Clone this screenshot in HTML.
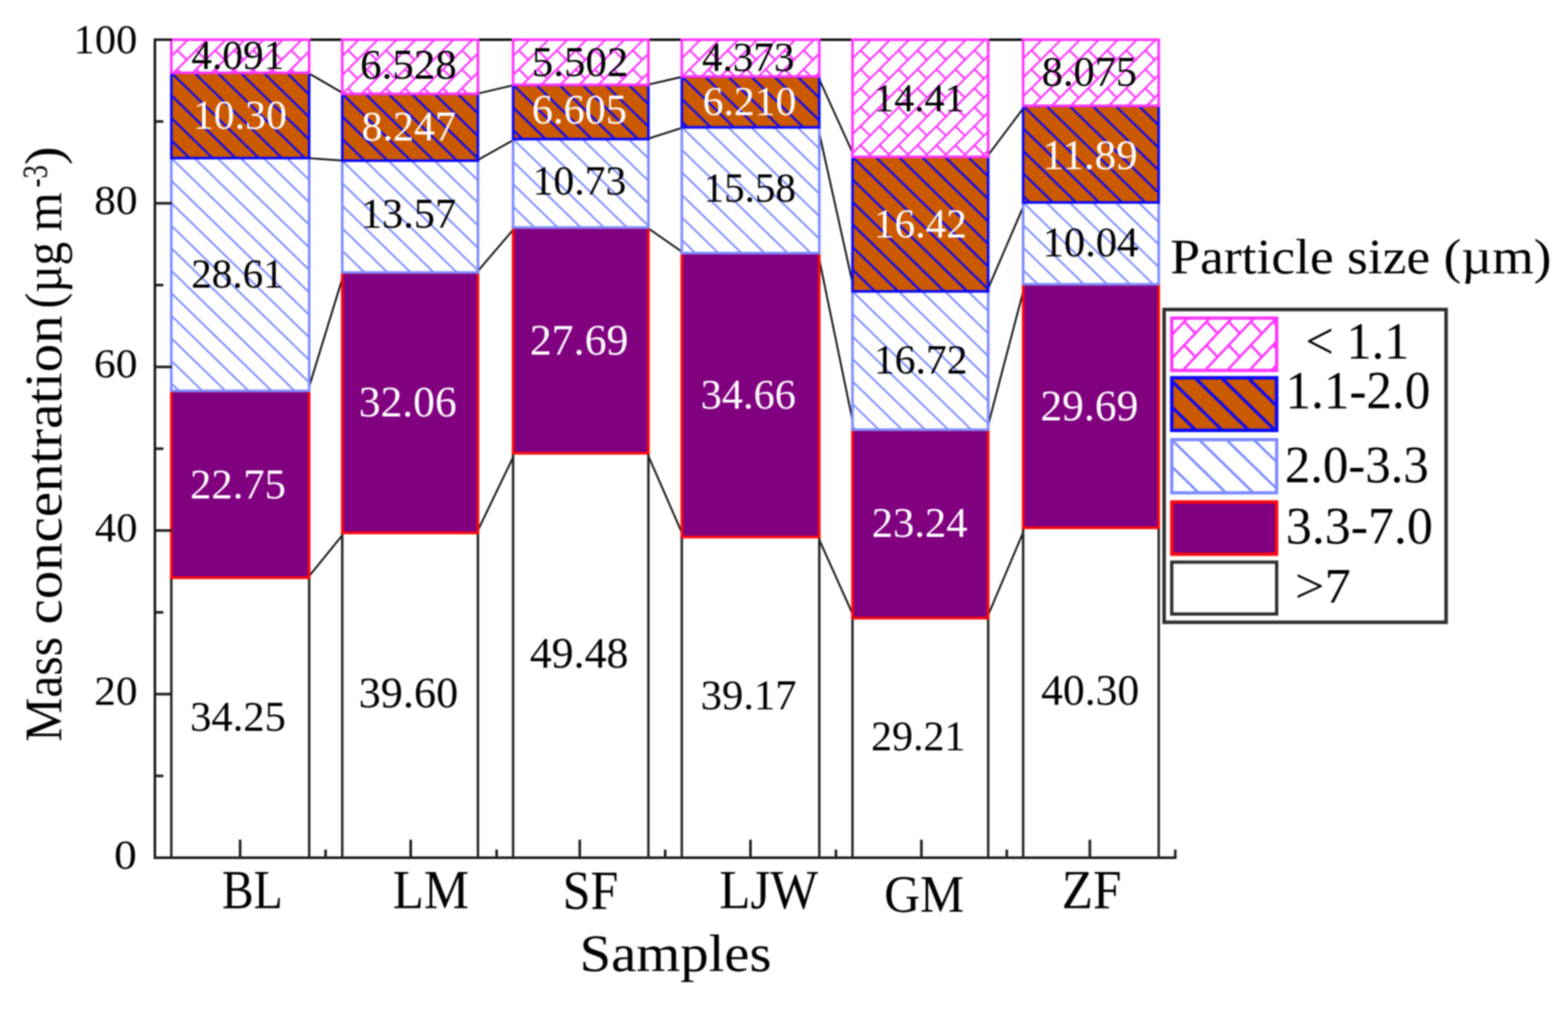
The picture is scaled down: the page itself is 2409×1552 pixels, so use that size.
<!DOCTYPE html>
<html lang="en"><head><meta charset="utf-8"><title>Mass concentration by particle size</title>
<style>
html,body{margin:0;padding:0;background:#fff;}
body{width:2409px;height:1552px;overflow:hidden;}
svg{display:block;}
text{font-family:"Liberation Serif","DejaVu Serif",serif;white-space:pre;}
</style></head><body>
<svg width="2409" height="1552" viewBox="0 0 2409 1552" role="img" aria-label="Stacked bar chart of mass concentration by particle size">
<defs><filter id="soft" x="0" y="0" width="2409" height="1552" filterUnits="userSpaceOnUse" color-interpolation-filters="sRGB"><feGaussianBlur stdDeviation="0.90"/></filter></defs>
<rect width="2409" height="1552" fill="#fff"/>
<g filter="url(#soft)">
<g stroke="#141414" fill="none">
<line x1="473.0" y1="887.7" x2="528.8" y2="818.9" stroke-width="2.9"/>
<line x1="473.0" y1="600.6" x2="528.8" y2="418.7" stroke-width="2.9"/>
<line x1="473.0" y1="242.9" x2="528.8" y2="246.9" stroke-width="2.9"/>
<line x1="473.0" y1="111.9" x2="528.8" y2="144.2" stroke-width="2.9"/>
<line x1="475.0" y1="61.0" x2="525.8" y2="61.0" stroke-width="4"/>
<line x1="732.3" y1="818.9" x2="791.3" y2="696.4" stroke-width="2.9"/>
<line x1="732.3" y1="418.7" x2="791.3" y2="349.6" stroke-width="2.9"/>
<line x1="732.3" y1="246.9" x2="791.3" y2="213.7" stroke-width="2.9"/>
<line x1="732.3" y1="144.2" x2="791.3" y2="130.4" stroke-width="2.9"/>
<line x1="734.3" y1="61.0" x2="788.3" y2="61.0" stroke-width="4"/>
<line x1="994.2" y1="696.4" x2="1050.5" y2="825.2" stroke-width="2.9"/>
<line x1="994.2" y1="349.6" x2="1050.5" y2="388.9" stroke-width="2.9"/>
<line x1="994.2" y1="213.7" x2="1050.5" y2="195.6" stroke-width="2.9"/>
<line x1="994.2" y1="130.4" x2="1050.5" y2="117.5" stroke-width="2.9"/>
<line x1="996.2" y1="61.0" x2="1047.5" y2="61.0" stroke-width="4"/>
<line x1="1256.7" y1="825.2" x2="1312.7" y2="949.7" stroke-width="2.9"/>
<line x1="1256.7" y1="388.9" x2="1312.7" y2="660.3" stroke-width="2.9"/>
<line x1="1256.7" y1="195.6" x2="1312.7" y2="447.7" stroke-width="2.9"/>
<line x1="1256.7" y1="117.5" x2="1312.7" y2="241.0" stroke-width="2.9"/>
<line x1="1258.7" y1="61.0" x2="1309.7" y2="61.0" stroke-width="4"/>
<line x1="1516.2" y1="949.7" x2="1574.9" y2="811.1" stroke-width="2.9"/>
<line x1="1516.2" y1="660.3" x2="1574.9" y2="436.8" stroke-width="2.9"/>
<line x1="1516.2" y1="447.7" x2="1574.9" y2="311.1" stroke-width="2.9"/>
<line x1="1516.2" y1="241.0" x2="1574.9" y2="162.6" stroke-width="2.9"/>
<line x1="1518.2" y1="61.0" x2="1571.9" y2="61.0" stroke-width="4"/>
</g>
<g>
<rect x="263.2" y="887.7" width="211.8" height="430.3" fill="#fff" stroke="#222" stroke-width="3.7"/>
<rect x="263.2" y="600.6" width="211.8" height="287.1" fill="#800080" stroke="#FF0A0A" stroke-width="4.0"/>
<rect x="263.2" y="242.9" width="211.8" height="357.7" fill="#fff"/>
<path d="M440.6 242.9L475 276.4M405.1 242.9L475 311M369.7 242.9L475 345.6M334.2 242.9L475 380.2M298.7 242.9L475 414.8M263.2 242.9L475 449.4M263.2 277.5L475 484M263.2 312.1L475 518.6M263.2 346.7L475 553.2M263.2 381.3L475 587.8M263.2 415.9L452.6 600.6M263.2 450.5L417.1 600.6M263.2 485.1L381.7 600.6M263.2 519.7L346.2 600.6M263.2 554.3L310.7 600.6M263.2 588.9L275.2 600.6" stroke="#7D8BFF" stroke-width="2.8" fill="none"/>
<rect x="263.2" y="242.9" width="211.8" height="357.7" fill="none" stroke="#7D8BFF" stroke-width="4.0"/>
<rect x="263.2" y="111.9" width="211.8" height="131.0" fill="#CB5900"/>
<path d="M440.6 111.9L475 145.4M405.1 111.9L475 180M369.7 111.9L475 214.6M334.2 111.9L468.5 242.9M298.7 111.9L433 242.9M263.2 111.9L397.6 242.9M263.2 146.5L362.1 242.9M263.2 181.1L326.6 242.9M263.2 215.7L291.1 242.9" stroke="#0C08F8" stroke-width="3.3" fill="none"/>
<rect x="263.2" y="111.9" width="211.8" height="131.0" fill="none" stroke="#0C08F8" stroke-width="4.0"/>
<rect x="263.2" y="61.0" width="211.8" height="50.9" fill="#fff"/>
<path d="M263.2 86.5L288.7 61M266.9 111.9L317.8 61M296.1 111.9L347 61M325.2 111.9L376.1 61M354.4 111.9L405.3 61M383.6 111.9L434.5 61M412.7 111.9L463.6 61M441.9 111.9L475 78.8M471 111.9L475 107.9M285.2 61L286.9 62.7M314.3 61L316.1 62.7M343.5 61L345.2 62.7M372.7 61L374.4 62.7M401.8 61L403.6 62.7M431 61L432.7 62.7M460.1 61L461.9 62.7M272.3 77.3L286.9 91.9M301.5 77.3L316.1 91.9M330.7 77.3L345.2 91.9M359.8 77.3L374.4 91.9M389 77.3L403.6 91.9M418.1 77.3L432.7 91.9M447.3 77.3L461.9 91.9M272.3 106.5L277.8 111.9M301.5 106.5L306.9 111.9M330.7 106.5L336.1 111.9M359.8 106.5L365.2 111.9M389 106.5L394.4 111.9M418.1 106.5L423.6 111.9M447.3 106.5L452.7 111.9" stroke="#FF33FF" stroke-width="3.0" fill="none"/>
<rect x="263.2" y="61.0" width="211.8" height="50.9" fill="none" stroke="#FF33FF" stroke-width="4.0"/>
</g>
<g>
<rect x="525.8" y="818.9" width="208.5" height="499.1" fill="#fff" stroke="#222" stroke-width="3.7"/>
<rect x="525.8" y="418.7" width="208.5" height="400.2" fill="#800080" stroke="#FF0A0A" stroke-width="4.0"/>
<rect x="525.8" y="246.9" width="208.5" height="171.8" fill="#fff"/>
<path d="M703.2 246.9L734.3 277.2M667.7 246.9L734.3 311.8M632.3 246.9L734.3 346.4M596.8 246.9L734.3 381M561.3 246.9L734.3 415.6M525.8 246.9L702 418.7M525.8 281.5L666.5 418.7M525.8 316.1L631 418.7M525.8 350.7L595.5 418.7M525.8 385.3L560.1 418.7" stroke="#7D8BFF" stroke-width="2.8" fill="none"/>
<rect x="525.8" y="246.9" width="208.5" height="171.8" fill="none" stroke="#7D8BFF" stroke-width="4.0"/>
<rect x="525.8" y="144.2" width="208.5" height="102.7" fill="#CB5900"/>
<path d="M703.2 144.2L734.3 174.5M667.7 144.2L734.3 209.1M632.3 144.2L734.3 243.7M596.8 144.2L702.1 246.9M561.3 144.2L666.6 246.9M525.8 144.2L631.1 246.9M525.8 178.8L595.6 246.9M525.8 213.4L560.2 246.9" stroke="#0C08F8" stroke-width="3.3" fill="none"/>
<rect x="525.8" y="144.2" width="208.5" height="102.7" fill="none" stroke="#0C08F8" stroke-width="4.0"/>
<rect x="525.8" y="61.0" width="208.5" height="83.2" fill="#fff"/>
<path d="M525.8 86.3L551.1 61M525.8 115.5L580.3 61M526.2 144.2L609.4 61M555.4 144.2L638.6 61M584.5 144.2L667.7 61M613.7 144.2L696.9 61M642.9 144.2L726.1 61M672 144.2L734.3 81.9M701.2 144.2L734.3 111.1M730.3 144.2L734.3 140.2M547.6 61L549.4 62.7M576.8 61L578.5 62.7M605.9 61L607.7 62.7M635.1 61L636.8 62.7M664.3 61L666 62.7M693.4 61L695.2 62.7M722.6 61L724.3 62.7M534.8 77.3L549.4 91.9M563.9 77.3L578.5 91.9M593.1 77.3L607.7 91.9M622.3 77.3L636.8 91.9M651.4 77.3L666 91.9M680.6 77.3L695.2 91.9M709.7 77.3L724.3 91.9M534.8 106.5L549.4 121.1M563.9 106.5L578.5 121.1M593.1 106.5L607.7 121.1M622.3 106.5L636.8 121.1M651.4 106.5L666 121.1M680.6 106.5L695.2 121.1M709.7 106.5L724.3 121.1M534.8 135.6L543.3 144.2M563.9 135.6L572.5 144.2M593.1 135.6L601.7 144.2M622.3 135.6L630.8 144.2M651.4 135.6L660 144.2M680.6 135.6L689.1 144.2M709.7 135.6L718.3 144.2" stroke="#FF33FF" stroke-width="3.0" fill="none"/>
<rect x="525.8" y="61.0" width="208.5" height="83.2" fill="none" stroke="#FF33FF" stroke-width="4.0"/>
</g>
<g>
<rect x="788.3" y="696.4" width="207.9" height="621.6" fill="#fff" stroke="#222" stroke-width="3.7"/>
<rect x="788.3" y="349.6" width="207.9" height="346.8" fill="#800080" stroke="#FF0A0A" stroke-width="4.0"/>
<rect x="788.3" y="213.7" width="207.9" height="135.9" fill="#fff"/>
<path d="M965.7 213.7L996.2 243.4M930.2 213.7L996.2 278M894.8 213.7L996.2 312.6M859.3 213.7L996.2 347.2M823.8 213.7L963.2 349.6M788.3 213.7L927.7 349.6M788.3 248.3L892.2 349.6M788.3 282.9L856.7 349.6M788.3 317.5L821.2 349.6" stroke="#7D8BFF" stroke-width="2.8" fill="none"/>
<rect x="788.3" y="213.7" width="207.9" height="135.9" fill="none" stroke="#7D8BFF" stroke-width="4.0"/>
<rect x="788.3" y="130.4" width="207.9" height="83.3" fill="#CB5900"/>
<path d="M965.7 130.4L996.2 160.1M930.2 130.4L996.2 194.7M894.8 130.4L980.2 213.7M859.3 130.4L944.7 213.7M823.8 130.4L909.2 213.7M788.3 130.4L873.7 213.7M788.3 165L838.2 213.7M788.3 199.6L802.8 213.7" stroke="#0C08F8" stroke-width="3.3" fill="none"/>
<rect x="788.3" y="130.4" width="207.9" height="83.3" fill="none" stroke="#0C08F8" stroke-width="4.0"/>
<rect x="788.3" y="61.0" width="207.9" height="69.4" fill="#fff"/>
<path d="M788.3 86.2L813.5 61M788.3 115.4L842.7 61M802.5 130.4L871.9 61M831.6 130.4L901 61M860.8 130.4L930.2 61M889.9 130.4L959.3 61M919.1 130.4L988.5 61M948.3 130.4L996.2 82.5M977.4 130.4L996.2 111.6M810.1 61L811.8 62.7M839.2 61L841 62.7M868.4 61L870.1 62.7M897.5 61L899.3 62.7M926.7 61L928.4 62.7M955.9 61L957.6 62.7M985 61L986.8 62.7M797.2 77.3L811.8 91.9M826.4 77.3L841 91.9M855.5 77.3L870.1 91.9M884.7 77.3L899.3 91.9M913.9 77.3L928.4 91.9M943 77.3L957.6 91.9M972.2 77.3L986.8 91.9M797.2 106.5L811.8 121.1M826.4 106.5L841 121.1M855.5 106.5L870.1 121.1M884.7 106.5L899.3 121.1M913.9 106.5L928.4 121.1M943 106.5L957.6 121.1M972.2 106.5L986.8 121.1" stroke="#FF33FF" stroke-width="3.0" fill="none"/>
<rect x="788.3" y="61.0" width="207.9" height="69.4" fill="none" stroke="#FF33FF" stroke-width="4.0"/>
</g>
<g>
<rect x="1047.5" y="825.2" width="211.2" height="492.8" fill="#fff" stroke="#222" stroke-width="3.7"/>
<rect x="1047.5" y="388.9" width="211.2" height="436.3" fill="#800080" stroke="#FF0A0A" stroke-width="4.0"/>
<rect x="1047.5" y="195.6" width="211.2" height="193.3" fill="#fff"/>
<path d="M1224.9 195.6L1258.7 228.5M1189.4 195.6L1258.7 263.1M1154 195.6L1258.7 297.7M1118.5 195.6L1258.7 332.3M1083 195.6L1258.7 366.9M1047.5 195.6L1245.8 388.9M1047.5 230.2L1210.3 388.9M1047.5 264.8L1174.8 388.9M1047.5 299.4L1139.3 388.9M1047.5 334L1103.8 388.9M1047.5 368.6L1068.3 388.9" stroke="#7D8BFF" stroke-width="2.8" fill="none"/>
<rect x="1047.5" y="195.6" width="211.2" height="193.3" fill="none" stroke="#7D8BFF" stroke-width="4.0"/>
<rect x="1047.5" y="117.5" width="211.2" height="78.1" fill="#CB5900"/>
<path d="M1224.9 117.5L1258.7 150.4M1189.4 117.5L1258.7 185M1154 117.5L1234.1 195.6M1118.5 117.5L1198.6 195.6M1083 117.5L1163.1 195.6M1047.5 117.5L1127.6 195.6M1047.5 152.1L1092.1 195.6M1047.5 186.7L1056.6 195.6" stroke="#0C08F8" stroke-width="3.3" fill="none"/>
<rect x="1047.5" y="117.5" width="211.2" height="78.1" fill="none" stroke="#0C08F8" stroke-width="4.0"/>
<rect x="1047.5" y="61.0" width="211.2" height="56.5" fill="#fff"/>
<path d="M1047.5 89.5L1076 61M1048.6 117.5L1105.1 61M1077.8 117.5L1134.3 61M1107 117.5L1163.5 61M1136.1 117.5L1192.6 61M1165.3 117.5L1221.8 61M1194.4 117.5L1250.9 61M1223.6 117.5L1258.7 82.4M1252.8 117.5L1258.7 111.6M1072.5 61L1074.2 62.7M1101.7 61L1103.4 62.7M1130.8 61L1132.6 62.7M1160 61L1161.7 62.7M1189.1 61L1190.9 62.7M1218.3 61L1220 62.7M1247.5 61L1249.2 62.7M1059.7 77.3L1074.2 91.9M1088.8 77.3L1103.4 91.9M1118 77.3L1132.6 91.9M1147.1 77.3L1161.7 91.9M1176.3 77.3L1190.9 91.9M1205.5 77.3L1220 91.9M1234.6 77.3L1249.2 91.9M1059.7 106.5L1070.7 117.5M1088.8 106.5L1099.8 117.5M1118 106.5L1129 117.5M1147.1 106.5L1158.2 117.5M1176.3 106.5L1187.3 117.5M1205.5 106.5L1216.5 117.5M1234.6 106.5L1245.6 117.5" stroke="#FF33FF" stroke-width="3.0" fill="none"/>
<rect x="1047.5" y="61.0" width="211.2" height="56.5" fill="none" stroke="#FF33FF" stroke-width="4.0"/>
</g>
<g>
<rect x="1309.7" y="949.7" width="208.5" height="368.3" fill="#fff" stroke="#222" stroke-width="3.7"/>
<rect x="1309.7" y="660.3" width="208.5" height="289.4" fill="#800080" stroke="#FF0A0A" stroke-width="4.0"/>
<rect x="1309.7" y="447.7" width="208.5" height="212.6" fill="#fff"/>
<path d="M1487.1 447.7L1518.2 478M1451.6 447.7L1518.2 512.6M1416.2 447.7L1518.2 547.2M1380.7 447.7L1518.2 581.8M1345.2 447.7L1518.2 616.4M1309.7 447.7L1518.2 651M1309.7 482.3L1492.3 660.3M1309.7 516.9L1456.8 660.3M1309.7 551.5L1421.3 660.3M1309.7 586.1L1385.8 660.3M1309.7 620.7L1350.3 660.3M1309.7 655.3L1314.8 660.3" stroke="#7D8BFF" stroke-width="2.8" fill="none"/>
<rect x="1309.7" y="447.7" width="208.5" height="212.6" fill="none" stroke="#7D8BFF" stroke-width="4.0"/>
<rect x="1309.7" y="241.0" width="208.5" height="206.7" fill="#CB5900"/>
<path d="M1487.1 241L1518.2 271.3M1451.6 241L1518.2 305.9M1416.2 241L1518.2 340.5M1380.7 241L1518.2 375.1M1345.2 241L1518.2 409.7M1309.7 241L1518.2 444.3M1309.7 275.6L1486.2 447.7M1309.7 310.2L1450.7 447.7M1309.7 344.8L1415.2 447.7M1309.7 379.4L1379.8 447.7M1309.7 414L1344.3 447.7" stroke="#0C08F8" stroke-width="3.3" fill="none"/>
<rect x="1309.7" y="241.0" width="208.5" height="206.7" fill="none" stroke="#0C08F8" stroke-width="4.0"/>
<rect x="1309.7" y="61.0" width="208.5" height="180.0" fill="#fff"/>
<path d="M1309.7 89.7L1338.4 61M1309.7 118.9L1367.6 61M1309.7 148L1396.7 61M1309.7 177.2L1425.9 61M1309.7 206.4L1455.1 61M1309.7 235.5L1484.2 61M1333.4 241L1513.4 61M1362.5 241L1518.2 85.3M1391.7 241L1518.2 114.5M1420.9 241L1518.2 143.7M1450 241L1518.2 172.8M1479.2 241L1518.2 202M1508.3 241L1518.2 231.1M1334.9 61L1336.7 62.7M1364.1 61L1365.8 62.7M1393.3 61L1395 62.7M1422.4 61L1424.2 62.7M1451.6 61L1453.3 62.7M1480.7 61L1482.5 62.7M1509.9 61L1511.6 62.7M1322.1 77.3L1336.7 91.9M1351.3 77.3L1365.8 91.9M1380.4 77.3L1395 91.9M1409.6 77.3L1424.2 91.9M1438.7 77.3L1453.3 91.9M1467.9 77.3L1482.5 91.9M1497.1 77.3L1511.6 91.9M1322.1 106.5L1336.7 121.1M1351.3 106.5L1365.8 121.1M1380.4 106.5L1395 121.1M1409.6 106.5L1424.2 121.1M1438.7 106.5L1453.3 121.1M1467.9 106.5L1482.5 121.1M1497.1 106.5L1511.6 121.1M1322.1 135.6L1336.7 150.2M1351.3 135.6L1365.8 150.2M1380.4 135.6L1395 150.2M1409.6 135.6L1424.2 150.2M1438.7 135.6L1453.3 150.2M1467.9 135.6L1482.5 150.2M1497.1 135.6L1511.6 150.2M1322.1 164.8L1336.7 179.4M1351.3 164.8L1365.8 179.4M1380.4 164.8L1395 179.4M1409.6 164.8L1424.2 179.4M1438.7 164.8L1453.3 179.4M1467.9 164.8L1482.5 179.4M1497.1 164.8L1511.6 179.4M1322.1 194L1336.7 208.5M1351.3 194L1365.8 208.5M1380.4 194L1395 208.5M1409.6 194L1424.2 208.5M1438.7 194L1453.3 208.5M1467.9 194L1482.5 208.5M1497.1 194L1511.6 208.5M1322.1 223.1L1336.7 237.7M1351.3 223.1L1365.8 237.7M1380.4 223.1L1395 237.7M1409.6 223.1L1424.2 237.7M1438.7 223.1L1453.3 237.7M1467.9 223.1L1482.5 237.7M1497.1 223.1L1511.6 237.7" stroke="#FF33FF" stroke-width="3.0" fill="none"/>
<rect x="1309.7" y="61.0" width="208.5" height="180.0" fill="none" stroke="#FF33FF" stroke-width="4.0"/>
</g>
<g>
<rect x="1571.9" y="811.1" width="208.3" height="506.9" fill="#fff" stroke="#222" stroke-width="3.7"/>
<rect x="1571.9" y="436.8" width="208.3" height="374.3" fill="#800080" stroke="#FF0A0A" stroke-width="4.0"/>
<rect x="1571.9" y="311.1" width="208.3" height="125.7" fill="#fff"/>
<path d="M1749.3 311.1L1780.2 341.2M1713.8 311.1L1780.2 375.8M1678.4 311.1L1780.2 410.4M1642.9 311.1L1771.8 436.8M1607.4 311.1L1736.3 436.8M1571.9 311.1L1700.8 436.8M1571.9 345.7L1665.3 436.8M1571.9 380.3L1629.8 436.8M1571.9 414.9L1594.4 436.8" stroke="#7D8BFF" stroke-width="2.8" fill="none"/>
<rect x="1571.9" y="311.1" width="208.3" height="125.7" fill="none" stroke="#7D8BFF" stroke-width="4.0"/>
<rect x="1571.9" y="162.6" width="208.3" height="148.5" fill="#CB5900"/>
<path d="M1749.3 162.6L1780.2 192.7M1713.8 162.6L1780.2 227.3M1678.4 162.6L1780.2 261.9M1642.9 162.6L1780.2 296.5M1607.4 162.6L1759.7 311.1M1571.9 162.6L1724.2 311.1M1571.9 197.2L1688.7 311.1M1571.9 231.8L1653.2 311.1M1571.9 266.4L1617.7 311.1M1571.9 301L1582.3 311.1" stroke="#0C08F8" stroke-width="3.3" fill="none"/>
<rect x="1571.9" y="162.6" width="208.3" height="148.5" fill="none" stroke="#0C08F8" stroke-width="4.0"/>
<rect x="1571.9" y="61.0" width="208.3" height="101.6" fill="#fff"/>
<path d="M1571.9 90L1600.9 61M1571.9 119.1L1630 61M1571.9 148.3L1659.2 61M1586.7 162.6L1688.3 61M1615.9 162.6L1717.5 61M1645.1 162.6L1746.7 61M1674.2 162.6L1775.8 61M1703.4 162.6L1780.2 85.8M1732.5 162.6L1780.2 114.9M1761.7 162.6L1780.2 144.1M1597.4 61L1599.1 62.7M1626.5 61L1628.3 62.7M1655.7 61L1657.4 62.7M1684.9 61L1686.6 62.7M1714 61L1715.8 62.7M1743.2 61L1744.9 62.7M1772.3 61L1774.1 62.7M1584.5 77.3L1599.1 91.9M1613.7 77.3L1628.3 91.9M1642.9 77.3L1657.4 91.9M1672 77.3L1686.6 91.9M1701.2 77.3L1715.8 91.9M1730.3 77.3L1744.9 91.9M1759.5 77.3L1774.1 91.9M1584.5 106.5L1599.1 121.1M1613.7 106.5L1628.3 121.1M1642.9 106.5L1657.4 121.1M1672 106.5L1686.6 121.1M1701.2 106.5L1715.8 121.1M1730.3 106.5L1744.9 121.1M1759.5 106.5L1774.1 121.1M1584.5 135.6L1599.1 150.2M1613.7 135.6L1628.3 150.2M1642.9 135.6L1657.4 150.2M1672 135.6L1686.6 150.2M1701.2 135.6L1715.8 150.2M1730.3 135.6L1744.9 150.2M1759.5 135.6L1774.1 150.2" stroke="#FF33FF" stroke-width="3.0" fill="none"/>
<rect x="1571.9" y="61.0" width="208.3" height="101.6" fill="none" stroke="#FF33FF" stroke-width="4.0"/>
</g>
<g stroke="#1e1e1e" stroke-width="4" fill="none">
<path d="M238.0 59.0V1318.0H1807.6"/>
<line x1="238.0" y1="1318.0" x2="264.0" y2="1318.0"/>
<line x1="238.0" y1="1192.3" x2="251.0" y2="1192.3"/>
<line x1="238.0" y1="1066.6" x2="264.0" y2="1066.6"/>
<line x1="238.0" y1="940.9" x2="251.0" y2="940.9"/>
<line x1="238.0" y1="815.2" x2="264.0" y2="815.2"/>
<line x1="238.0" y1="689.5" x2="251.0" y2="689.5"/>
<line x1="238.0" y1="563.8" x2="264.0" y2="563.8"/>
<line x1="238.0" y1="438.1" x2="251.0" y2="438.1"/>
<line x1="238.0" y1="312.4" x2="264.0" y2="312.4"/>
<line x1="238.0" y1="186.7" x2="251.0" y2="186.7"/>
<line x1="238.0" y1="61.0" x2="264.0" y2="61.0"/>
<line x1="368.9" y1="1318.0" x2="368.9" y2="1290.3"/>
<line x1="500.2" y1="1318.0" x2="500.2" y2="1305.5"/>
<line x1="631.0" y1="1318.0" x2="631.0" y2="1290.3"/>
<line x1="763.0" y1="1318.0" x2="763.0" y2="1305.5"/>
<line x1="890.7" y1="1318.0" x2="890.7" y2="1290.3"/>
<line x1="1022.0" y1="1318.0" x2="1022.0" y2="1305.5"/>
<line x1="1153.0" y1="1318.0" x2="1153.0" y2="1290.3"/>
<line x1="1284.3" y1="1318.0" x2="1284.3" y2="1305.5"/>
<line x1="1415.6" y1="1318.0" x2="1415.6" y2="1290.3"/>
<line x1="1546.8" y1="1318.0" x2="1546.8" y2="1305.5"/>
<line x1="1674.4" y1="1318.0" x2="1674.4" y2="1290.3"/>
<line x1="1805.6" y1="1318.0" x2="1805.6" y2="1305.5"/>
</g>
<g>
<text x="291.9" y="1123.4" font-size="65.5" fill="#000">34.25</text>
<text x="291.9" y="766.0" font-size="65.5" fill="#fff">22.75</text>
<text x="293.7" y="441.8" font-size="63.2" fill="#000">28.61</text>
<text x="296.2" y="197.5" font-size="64.3" fill="#fff">10.30</text>
<text x="294.0" y="106.4" font-size="63.4" fill="#000">4.091</text>
<text x="551.1" y="1086.8" font-size="67.9" fill="#000">39.60</text>
<text x="551.2" y="639.5" font-size="66.9" fill="#fff">32.06</text>
<text x="554.4" y="350.1" font-size="65.0" fill="#000">13.57</text>
<text x="555.4" y="216.2" font-size="64.5" fill="#fff">8.247</text>
<text x="553.2" y="121.1" font-size="66.0" fill="#000">6.528</text>
<text x="813.9" y="1025.5" font-size="67.4" fill="#000">49.48</text>
<text x="813.9" y="544.6" font-size="67.4" fill="#fff">27.69</text>
<text x="818.3" y="298.9" font-size="64.0" fill="#000">10.73</text>
<text x="817.1" y="190.1" font-size="65.0" fill="#fff">6.605</text>
<text x="817.1" y="116.9" font-size="65.9" fill="#000">5.502</text>
<text x="1076.4" y="1090.3" font-size="65.5" fill="#000">39.17</text>
<text x="1076.5" y="628.2" font-size="65.0" fill="#fff">34.66</text>
<text x="1080.9" y="310.4" font-size="63.0" fill="#000">15.58</text>
<text x="1079.6" y="176.5" font-size="64.0" fill="#fff">6.210</text>
<text x="1078.5" y="108.6" font-size="63.1" fill="#000">4.373</text>
<text x="1338.2" y="1152.7" font-size="64.5" fill="#000">29.21</text>
<text x="1339.2" y="824.7" font-size="65.5" fill="#fff">23.24</text>
<text x="1342.5" y="573.7" font-size="64.0" fill="#000">16.72</text>
<text x="1342.5" y="365.4" font-size="63.5" fill="#fff">16.42</text>
<text x="1342.7" y="171.0" font-size="62.0" fill="#000">14.41</text>
<text x="1599.5" y="1082.6" font-size="67.0" fill="#000">40.30</text>
<text x="1598.4" y="645.8" font-size="66.9" fill="#fff">29.69</text>
<text x="1601.7" y="393.7" font-size="65.5" fill="#000">10.04</text>
<text x="1601.6" y="259.8" font-size="66.1" fill="#fff">11.89</text>
<text x="1600.6" y="132.3" font-size="65.0" fill="#000">8.075</text>
</g>
<g>
<text transform="translate(113.0 81.8) scale(1.0166 1)" font-size="64.3" fill="#000">100</text>
<text transform="translate(144.7 328.6) scale(1.0368 1)" font-size="64.3" fill="#000">80</text>
<text transform="translate(144.3 580.2) scale(1.0435 1)" font-size="64.3" fill="#000">60</text>
<text transform="translate(145.8 831.8) scale(1.0198 1)" font-size="64.3" fill="#000">40</text>
<text transform="translate(144.7 1083.2) scale(1.0368 1)" font-size="64.3" fill="#000">20</text>
<text transform="translate(175.3 1335.2) scale(1.0842 1)" font-size="64.3" fill="#000">0</text>
</g>
<g>
<text transform="translate(340.9 1396.4) scale(0.8697 1)" font-size="84.1" fill="#000">BL</text>
<text transform="translate(603.6 1396.4) scale(0.9275 1)" font-size="84.1" fill="#000">LM</text>
<text transform="translate(864.5 1396.9) scale(0.9152 1)" font-size="83.8" fill="#000">SF</text>
<text transform="translate(1105.3 1396.4) scale(0.9316 1)" font-size="83.7" fill="#000">LJW</text>
<text transform="translate(1358.6 1400.6) scale(0.9542 1)" font-size="79.8" fill="#000">GM</text>
<text transform="translate(1631.3 1396.4) scale(0.9346 1)" font-size="84.1" fill="#000">ZF</text>
</g>
<text transform="translate(890.6 1492.0) scale(1.0924 1)" font-size="79.6" fill="#000">Samples</text>
<g>
<text transform="translate(94.2 1139.8) rotate(-90) scale(0.9524 1)" font-size="80.0">Mass</text>
<text transform="translate(94.2 959.5) rotate(-90) scale(1.0909 1)" font-size="80.0">concentration</text>
<text transform="translate(94.2 474.0) rotate(-90) scale(0.9093 1)" font-size="80.0">(µg</text>
<text transform="translate(94.2 355.9) rotate(-90) scale(0.9733 1)" font-size="80.0">m</text>
<text transform="translate(71.5 287.9) rotate(-90) scale(0.7619 1)" font-size="54.0">-3</text>
<text transform="translate(94.2 253.5) rotate(-90) scale(1.0682 1)" font-size="80.0">)</text>
</g>
<text transform="translate(1798.1 420.2) scale(1.0656 1)" font-size="77.1" fill="#000">Particle size (µm)</text>
<rect x="1788.5" y="475.6" width="433.2" height="480.6" fill="#fff" stroke="#2e2e2e" stroke-width="5.4"/>
<rect x="1800.2" y="488.8" width="161.2" height="80.4" fill="#fff"/>
<path d="M1800.2 514.7L1824.7 488.8M1800.2 550.8L1858.8 488.8M1816.9 569.2L1892.9 488.8M1851 569.2L1927 488.8M1885.1 569.2L1961.1 488.8M1919.2 569.2L1961.4 524.6M1953.3 569.2L1961.4 560.7M1800.2 510L1802.5 512.4M1819.5 494.3L1836.5 512.4M1853.6 494.3L1870.6 512.4M1887.7 494.3L1904.8 512.4M1921.8 494.3L1938.8 512.4M1955.9 494.3L1961.4 500.1M1800.2 546.1L1802.5 548.4M1819.5 530.4L1836.5 548.4M1853.6 530.4L1870.6 548.4M1887.7 530.4L1904.8 548.4M1921.8 530.4L1938.8 548.4M1955.9 530.4L1961.4 536.2M1819.5 566.5L1822.1 569.2M1853.6 566.5L1856.2 569.2M1887.7 566.5L1890.3 569.2M1921.8 566.5L1924.4 569.2M1955.9 566.5L1958.5 569.2" stroke="#FF33FF" stroke-width="3.6" fill="none"/>
<rect x="1800.2" y="488.8" width="161.2" height="80.4" fill="none" stroke="#FF33FF" stroke-width="5"/>
<text transform="translate(2005.6 551.1) scale(0.9726 1)" font-size="79.5" fill="#000">&lt; 1.1</text>
<rect x="1800.2" y="580.5" width="161.2" height="80.8" fill="#CB5900"/>
<path d="M1957.6 580.5L1961.4 584.2M1917 580.5L1961.4 623.8M1876.4 580.5L1959.2 661.3M1835.8 580.5L1918.6 661.3M1800.2 585.4L1878 661.3M1800.2 625L1837.4 661.3" stroke="#0C08F8" stroke-width="4.6" fill="none"/>
<rect x="1800.2" y="580.5" width="161.2" height="80.8" fill="none" stroke="#0C08F8" stroke-width="5.4"/>
<text transform="translate(1975.0 627.3) scale(0.9624 1)" font-size="81.6" fill="#000">1.1-2.0</text>
<rect x="1800.2" y="675.6" width="161.2" height="81.7" fill="#fff"/>
<path d="M1926.1 675.6L1961.4 710M1884.1 675.6L1961.4 751M1842 675.6L1925.8 757.3M1800.2 675.8L1883.8 757.3M1800.2 716.8L1841.7 757.3" stroke="#7D8BFF" stroke-width="3.8" fill="none"/>
<rect x="1800.2" y="675.6" width="161.2" height="81.7" fill="none" stroke="#7D8BFF" stroke-width="5"/>
<text transform="translate(1973.9 740.5) scale(0.9665 1)" font-size="80.8" fill="#000">2.0-3.3</text>
<rect x="1800.2" y="771.2" width="161.2" height="80.6" fill="#800080" stroke="#FF0A0A" stroke-width="5"/>
<text transform="translate(1975.6 835.2) scale(0.9841 1)" font-size="81.0" fill="#000">3.3-7.0</text>
<rect x="1800.2" y="863.8" width="161.2" height="79.7" fill="#fff" stroke="#2e2e2e" stroke-width="5"/>
<text transform="translate(1989.6 925.8) scale(1.0692 1)" font-size="75.3" fill="#000">&gt;7</text>
</g>
</svg>
</body></html>
